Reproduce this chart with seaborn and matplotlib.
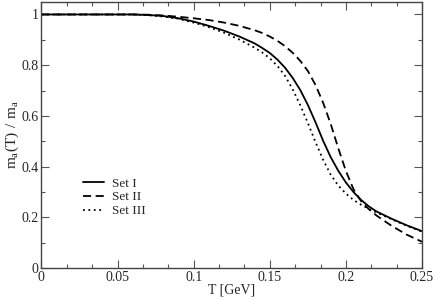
import numpy as np
import pandas as pd
import matplotlib
matplotlib.use('Agg')
import matplotlib.pyplot as plt
from matplotlib.ticker import MultipleLocator, FuncFormatter
import seaborn as sns

# values
T = [0.0, 0.02, 0.04, 0.06, 0.07, 0.08, 0.09, 0.10, 0.11, 0.12, 0.13, 0.14,
     0.145, 0.15, 0.155, 0.16, 0.165, 0.17, 0.175, 0.18, 0.185, 0.19, 0.195, 0.20,
     0.205, 0.21, 0.215, 0.22, 0.23, 0.24, 0.25]
set_1 = [1.0, 1.0, 1.0, 1.0, 0.998, 0.994, 0.985, 0.972, 0.955, 0.936, 0.913, 0.886,
         0.868, 0.848, 0.822, 0.79, 0.75, 0.702, 0.643, 0.575, 0.502, 0.437, 0.383, 0.337,
         0.299, 0.268, 0.243, 0.223, 0.194, 0.168, 0.145]
set_2 = [1.0, 1.0, 1.0, 1.0, 0.999, 0.996, 0.991, 0.985, 0.978, 0.968, 0.955, 0.938,
         0.927, 0.913, 0.896, 0.875, 0.849, 0.817, 0.777, 0.722, 0.652, 0.568, 0.472, 0.382,
         0.31, 0.263, 0.232, 0.207, 0.166, 0.131, 0.103]
set_3 = [1.0, 1.0, 1.0, 1.0, 0.997, 0.992, 0.983, 0.968, 0.95, 0.928, 0.901, 0.869,
         0.85, 0.827, 0.797, 0.758, 0.705, 0.642, 0.572, 0.497, 0.427, 0.368, 0.325, 0.293,
         0.268, 0.249, 0.233, 0.219, 0.192, 0.166, 0.143]
labels = ['Set I', 'Set II', 'Set III']

df = pd.DataFrame({'T': T * 3,
                   'm': set_1 + set_2 + set_3,
                   'set': [labels[0]] * len(T) + [labels[1]] * len(T) + [labels[2]] * len(T)})

sns.set_style('ticks')
plt.rcParams['font.family'] = ['Liberation Serif', 'DejaVu Serif']
plt.rcParams['mathtext.fontset'] = 'custom'
plt.rcParams['mathtext.rm'] = 'Liberation Serif'

fig = plt.figure(figsize=(4.36, 3.0), dpi=100)
ax = fig.add_axes([0.095, 0.107, 0.873, 0.887])

styles = {'Set I': '-', 'Set II': (0, (4.5, 2.5)), 'Set III': (0, (1, 2))}
for name in labels:
    sub = df[df['set'] == name]
    sns.lineplot(data=sub, x='T', y='m', ax=ax, color='black', lw=1.3,
                 linestyle=styles[name], label=name)

ax.set_xlim(0, 0.25)
ax.set_ylim(0, 1.05)
ax.xaxis.set_major_locator(MultipleLocator(0.05))
ax.xaxis.set_minor_locator(MultipleLocator(0.05 / 3))
ax.yaxis.set_major_locator(MultipleLocator(0.2))
ax.yaxis.set_minor_locator(MultipleLocator(0.1))
fmt = FuncFormatter(lambda v, p: '%g' % round(v, 4))
ax.xaxis.set_major_formatter(fmt)
ax.yaxis.set_major_formatter(fmt)
ax.tick_params(which='both', direction='in', top=True, right=True,
               labelsize=10, color='#555555', width=0.8, pad=2)
ax.tick_params(which='major', length=6)
ax.tick_params(which='minor', length=3)
for s in ax.spines.values():
    s.set_color('#444444')
    s.set_linewidth(1.0)

ax.set_xlabel('T [GeV]', fontsize=10, labelpad=0)
ax.set_ylabel(r'$\mathregular{m_a(T)\ /\ m_a}$', fontsize=11, labelpad=0)

ax.legend(loc='upper left', bbox_to_anchor=(0.078, 0.385), frameon=False,
          fontsize=9.5, handlelength=1.6, handletextpad=0.6, labelspacing=0.12)

fig.savefig('out.png', dpi=100)
